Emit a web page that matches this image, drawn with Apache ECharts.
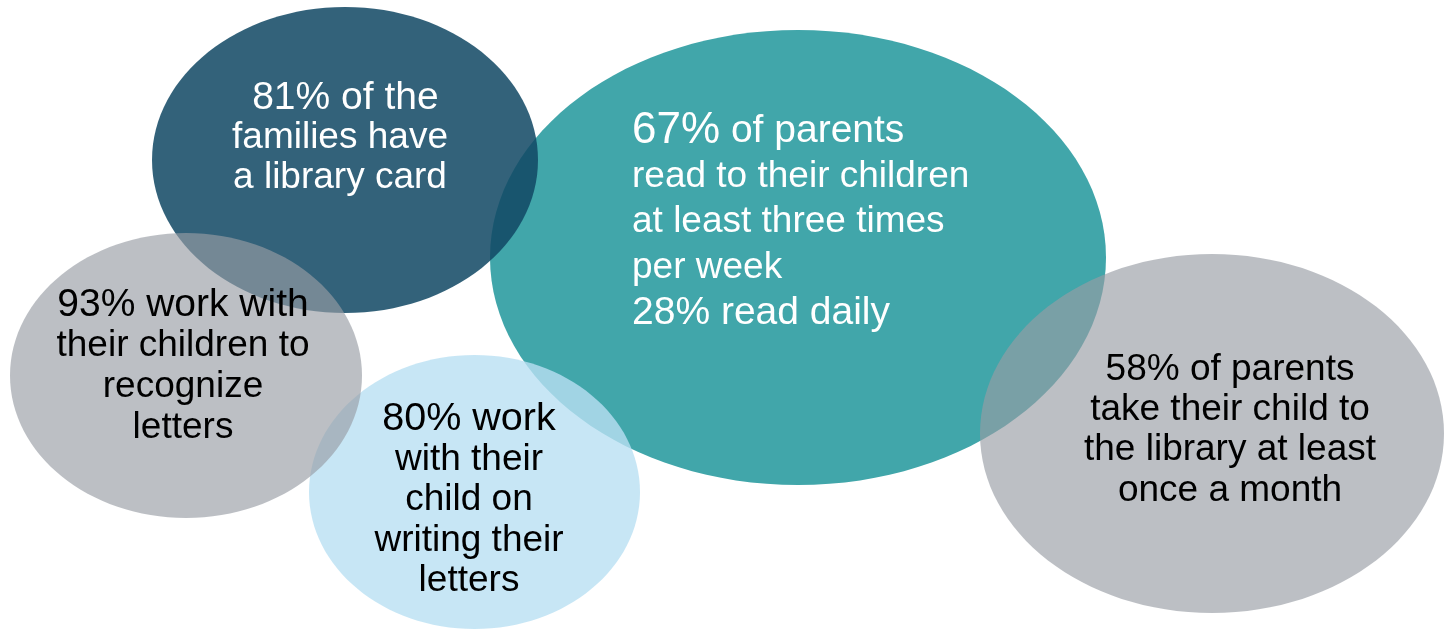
<!DOCTYPE html>
<html><head><meta charset="utf-8">
<script src="https://cdn.jsdelivr.net/npm/echarts@6/dist/echarts.min.js"></script>
<style>html,body{margin:0;padding:0;background:#ffffff}#c{width:1452px;height:630px}</style>
</head><body><div id="c"></div>
<script>
// ---- data ----
const categories = ['Library card', 'Recognize letters', 'Writing letters', 'Read to children', 'Library visits'];
const values = [81, 93, 80, 67, 58];
const dailyReading = 28;
const firstLines = ['of the', 'work with', 'work', 'of parents', 'of parents'];
const restLines = [
  ['families have', 'a library card'],
  ['their children to', 'recognize', 'letters'],
  ['with their', 'child on', 'writing their', 'letters'],
  ['read to their children', 'at least three times', 'per week'],
  ['take their child to', 'the library at least', 'once a month']
];
const extraLines = [[], [], [], [dailyReading + '% read daily'], []];

// ---- layout (axis units = pixels) ----
const bubbleX = [345, 186, 474.5, 798, 1212];
const bubbleY = [160, 375.5, 492, 257.5, 433.5];
const bubbleW = [386, 352, 331, 616, 464];
const bubbleH = [306, 285, 274, 455, 359];
const textX = [340, 183, 469, 632, 1230];
const textY = [138, 366.5, 500, 222, 430];
const drawOrder = [3, 0, 2, 1, 4];

// ---- styles ----
const fills = ['rgba(18,72,100,0.86)', 'rgba(152,157,165,0.65)', 'rgba(185,224,242,0.8)', '#41a6aa', 'rgba(152,157,165,0.65)'];
const textColors = ['#ffffff', '#000000', '#000000', '#ffffff', '#000000'];
const FONT = "'Liberation Sans', Arial, sans-serif";
const firstSize = [39, 39, 39.5, 39, 37];
const bodySize = [37, 37, 37, 37, 37];
const pctSize = [39, 39, 39.5, 44, 37];
const lineH = [40, 40.7, 40.5, 45.5, 40.3];
const align = ['center', 'center', 'center', 'left', 'center'];

function buildText(i) {
  const lead = i === 0 ? ' ' : '';
  const lines = ['{p|' + lead + values[i] + '%}{f| ' + firstLines[i] + '}'];
  restLines[i].forEach(l => lines.push('{b|' + l + '}'));
  extraLines[i].forEach(l => lines.push('{f|' + l + '}'));
  return lines.join('\n');
}
function richFor(i) {
  const c = textColors[i];
  return {
    p: {fontSize: pctSize[i], lineHeight: lineH[i], fontFamily: FONT, fill: c, color: c},
    f: {fontSize: firstSize[i], lineHeight: lineH[i], fontFamily: FONT, fill: c, color: c},
    b: {fontSize: bodySize[i], lineHeight: lineH[i], fontFamily: FONT, fill: c, color: c}
  };
}

const bubbleData = drawOrder.map(i => [bubbleX[i], bubbleY[i], bubbleW[i], bubbleH[i], i]);
const textData = categories.map((c, i) => [textX[i], textY[i], i]);

const chart = echarts.init(document.getElementById('c'), null, {renderer: 'canvas'});
chart.setOption({
  backgroundColor: '#ffffff',
  animation: false,
  grid: {left: 0, right: 0, top: 0, bottom: 0},
  xAxis: {type: 'value', min: 0, max: 1452, show: false},
  yAxis: {type: 'value', min: 0, max: 630, inverse: true, show: false},
  series: [
    {
      type: 'custom', z: 2, silent: true,
      data: bubbleData,
      renderItem: function (params, api) {
        const c = api.coord([api.value(0), api.value(1)]);
        const s = api.size([api.value(2), api.value(3)]);
        const idx = api.value(4);
        return {
          type: 'ellipse',
          shape: {cx: c[0], cy: c[1], rx: s[0] / 2, ry: s[1] / 2},
          style: {fill: fills[idx], stroke: null}
        };
      }
    },
    {
      type: 'custom', z: 10, silent: true,
      data: textData,
      renderItem: function (params, api) {
        const c = api.coord([api.value(0), api.value(1)]);
        const idx = api.value(2);
        return {
          type: 'text',
          x: c[0], y: c[1],
          style: {
            text: buildText(idx),
            rich: richFor(idx),
            align: align[idx],
            verticalAlign: 'middle',
            fill: textColors[idx],
            font: bodySize[idx] + 'px ' + FONT
          }
        };
      }
    }
  ]
});
</script></body></html>
